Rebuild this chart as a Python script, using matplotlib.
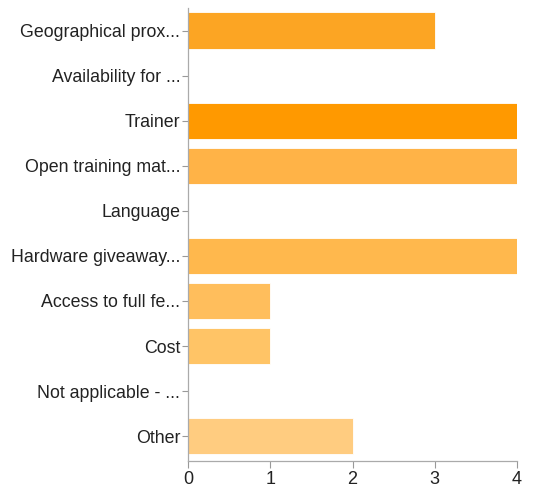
import matplotlib
matplotlib.use("Agg")
import matplotlib.pyplot as plt

# survey answers, top to bottom
labels = ["Geographical prox...", "Availability for ...", "Trainer",
          "Open training mat...", "Language", "Hardware giveaway...",
          "Access to full fe...", "Cost", "Not applicable - ...", "Other"]
counts = [3, 0, 4, 4, 0, 4, 1, 1, 0, 2]
colors = ["#fca523", "#fdab33", "#ff9900", "#ffb347", "#ffb84f",
          "#ffb84d", "#ffbe5c", "#ffc466", "#ffc874", "#ffcc80"]

plt.rcParams["font.family"] = ["Liberation Sans", "DejaVu Sans"]

fig = plt.figure(figsize=(5.39, 4.87), dpi=100)
ax = fig.add_axes([0.3488, 0.0534, 0.6104, 0.9302])

ypos = list(range(len(labels)))
ax.barh(ypos, counts, height=0.8, color=colors, edgecolor="white", linewidth=0.6)

ax.set_ylim(9.55, -0.5)
ax.set_xlim(0, 4)
ax.set_xticks([0, 1, 2, 3, 4])
ax.set_yticks(ypos)
ax.set_yticklabels(labels, fontsize=12.8, color="#222222")
ax.tick_params(axis="x", labelsize=13, colors="#999999", labelcolor="#222222",
               length=5, width=0.8, pad=2)
ax.tick_params(axis="y", colors="#999999", labelcolor="#222222", length=4,
               width=0.8, pad=1.5)

for s in ["top", "right"]:
    ax.spines[s].set_visible(False)
for s in ["left", "bottom"]:
    ax.spines[s].set_color("#aaaaaa")
    ax.spines[s].set_linewidth(0.9)

fig.savefig("out.png", dpi=100)
